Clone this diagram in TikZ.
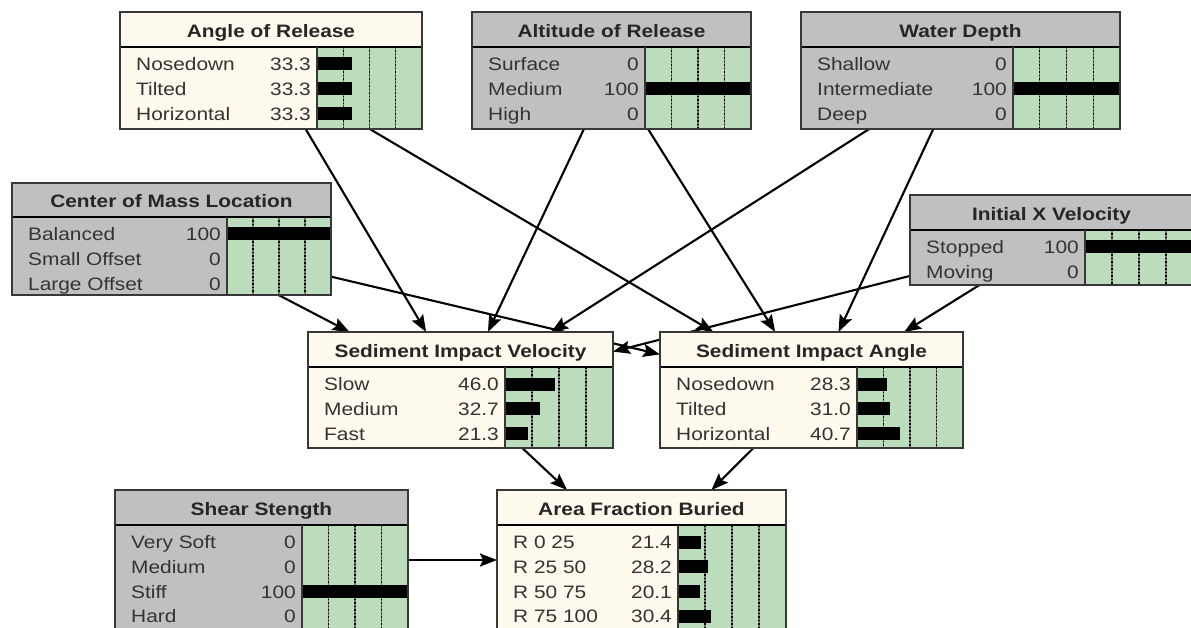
\documentclass[tikz,border=0pt]{standalone}
\usepackage{fontspec}
\newfontfamily\bnfont[FakeStretch=1.16]{Liberation Sans}
\usetikzlibrary{arrows.meta}
\definecolor{creamfill}{HTML}{FFF9EE}
\definecolor{grayfill}{HTML}{C0C0C0}
\definecolor{barfill}{HTML}{BBDDBB}
\definecolor{framecol}{HTML}{383838}
\pgfdeclarelayer{paper}
\pgfdeclarelayer{edges}
\pgfsetlayers{paper,edges,main}
\tikzset{
  bnframe/.style={draw=framecol, line width=1.8pt, inner sep=0pt, outer sep=0pt, rectangle},
  titletext/.style={font=\bnfont\bfseries\fontsize{18}{20}\selectfont, text=black!85, inner sep=0pt, anchor=base},
  labeltext/.style={font=\bnfont\fontsize{18}{20}\selectfont, text=black!80, inner sep=0pt},
  titleline/.style={draw=black, line width=2.6pt},
  sepline/.style={draw=framecol, line width=1.8pt},
  gridbase/.style={draw=black!55, line width=1.3pt},
  griddots/.style={draw=black, line width=1.3pt, dash pattern=on 1.5pt off 2pt},
  pbar/.style={fill=black},
  dep/.style={draw=black, line width=2.1pt, -{Stealth[length=17pt,width=13pt,inset=3pt]}},
}
% #1 name, #2 left, #3 top, #4 right, #5 bottom, #6 title bottom, #7 bar left, #8 fill, #9 title
\newcommand\bnbox[9]{%
  \def\Bl{#2}\def\Br{#4}\def\Bt{#3}\def\Bb{#5}\def\Btb{#6}\def\Bbl{#7}%
  \node[bnframe, fill=#8, minimum width={#4-#2}, minimum height={#5-#3}, anchor=north west] (#1) at (#2,#3) {};
  \fill[barfill] (#7,#6) rectangle (#4,#5);
  \foreach \k in {1,2,3}{
    \pgfmathsetmacro\gx{#7+\k*(#4-#7)/4}
    \draw[gridbase] (\gx,#6) -- (\gx,#5);
    \draw[griddots] (\gx,#6) -- (\gx,#5);
  }
  \node[titletext] at ({(#2+#4)/2},{(#3+#6)/2+8}) {#9};
}
\newcommand\bnrow[4]{%
  \pgfmathsetmacro\ry{\Btb+17+24.8*#1}
  \node[labeltext, anchor=base west] at (\Bl+16, \ry+6.5) {#2};
  \node[labeltext, anchor=base east] at (\Bbl-6, \ry+6.5) {#3};
  \ifdim #4pt>0pt
    \pgfmathsetmacro\rx{\Bbl+#4/100*(\Br-\Bbl)}
    \fill[pbar] (\Bbl,\ry-6.5) rectangle (\rx,\ry+6.5);
  \fi
}
\newcommand\bnend{%
  \draw[titleline] (\Bl,\Btb) -- (\Br,\Btb);
  \draw[sepline] (\Bbl,\Btb) -- (\Bbl,\Bb);
  \draw[framecol, line width=1.8pt] (\Bl,\Bt) rectangle (\Br,\Bb);
}
\begin{document}
\begin{tikzpicture}[x=1pt, y=-1pt]
\useasboundingbox (0,0) rectangle (1191,628);
\begin{pgfonlayer}{paper}
\fill[white] (0,0) rectangle (1191,628);
\end{pgfonlayer}
\clip (0,0) rectangle (1191,628);

\bnbox{aor}{120}{12}{422}{129}{47}{317}{creamfill}{Angle of Release}
\bnrow{0}{Nosedown}{33.3}{33.3}
\bnrow{1}{Tilted}{33.3}{33.3}
\bnrow{2}{Horizontal}{33.3}{33.3}
\bnend

\bnbox{alt}{472}{12}{751}{129}{47}{645}{grayfill}{Altitude of Release}
\bnrow{0}{Surface}{0}{0}
\bnrow{1}{Medium}{100}{100}
\bnrow{2}{High}{0}{0}
\bnend

\bnbox{wat}{801}{12}{1120}{129}{47}{1013}{grayfill}{Water Depth}
\bnrow{0}{Shallow}{0}{0}
\bnrow{1}{Intermediate}{100}{100}
\bnrow{2}{Deep}{0}{0}
\bnend

\bnbox{com}{12}{183}{331}{295}{217}{227}{grayfill}{Center of Mass Location}
\bnrow{0}{Balanced}{100}{100}
\bnrow{1}{Small Offset}{0}{0}
\bnrow{2}{Large Offset}{0}{0}
\bnend

\bnbox{inx}{910}{195}{1193}{285}{230}{1085}{grayfill}{Initial X Velocity}
\bnrow{0}{Stopped}{100}{100}
\bnrow{1}{Moving}{0}{0}
\bnend

\bnbox{siv}{308}{332}{613}{448}{367}{505}{creamfill}{Sediment Impact Velocity}
\bnrow{0}{Slow}{46.0}{46.0}
\bnrow{1}{Medium}{32.7}{32.7}
\bnrow{2}{Fast}{21.3}{21.3}
\bnend

\bnbox{sia}{660}{332}{963}{448}{367}{857}{creamfill}{Sediment Impact Angle}
\bnrow{0}{Nosedown}{28.3}{28.3}
\bnrow{1}{Tilted}{31.0}{31.0}
\bnrow{2}{Horizontal}{40.7}{40.7}
\bnend

\bnbox{shr}{115}{490}{408}{630}{525}{302}{grayfill}{Shear Stength}
\bnrow{0}{Very Soft}{0}{0}
\bnrow{1}{Medium}{0}{0}
\bnrow{2}{Stiff}{100}{100}
\bnrow{3}{Hard}{0}{0}
\bnend

\bnbox{afb}{497}{490}{786}{630}{525}{678}{creamfill}{Area Fraction Buried}
\bnrow{0}{R 0 25}{21.4}{21.4}
\bnrow{1}{R 25 50}{28.2}{28.2}
\bnrow{2}{R 50 75}{20.1}{20.1}
\bnrow{3}{R 75 100}{30.4}{30.4}
\bnend

\begin{pgfonlayer}{edges}
\draw[dep] (aor) -- (siv);
\draw[dep] (aor) -- (sia);
\draw[dep] (alt) -- (siv);
\draw[dep] (alt) -- (sia);
\draw[dep] (wat) -- (siv);
\draw[dep] (wat) -- (sia);
\draw[dep] (com) -- (siv);
\draw[dep] (com) -- (sia);
\draw[dep] (inx) -- (siv);
\draw[dep] (inx) -- (sia);
\draw[dep] (siv) -- (afb);
\draw[dep] (sia) -- (afb);
\draw[dep] (shr) -- (afb);
\end{pgfonlayer}
\end{tikzpicture}
\end{document}
